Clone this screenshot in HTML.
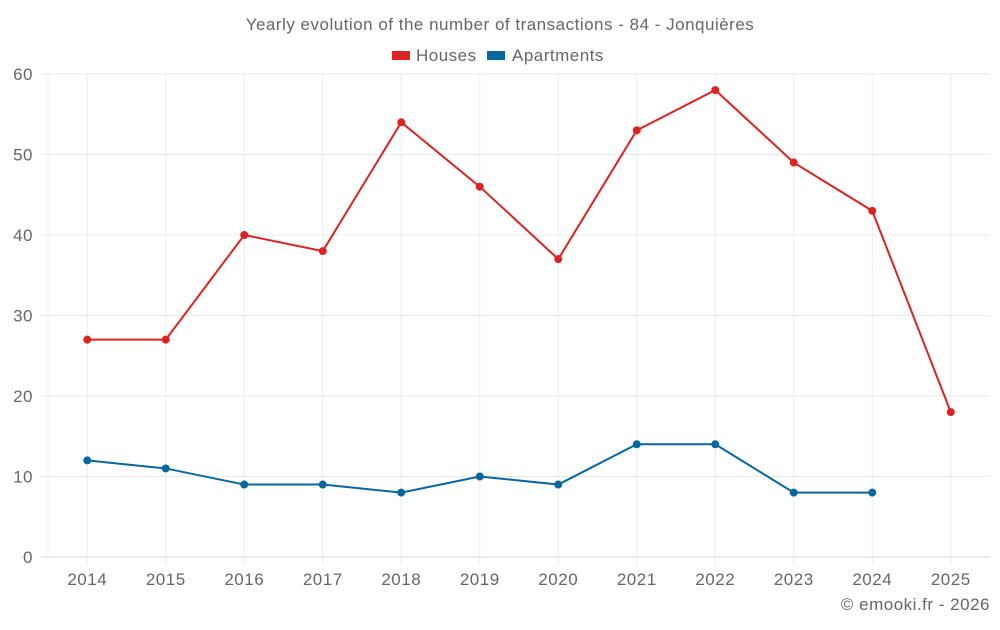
<!DOCTYPE html>
<html><head><meta charset="utf-8"><style>
body{margin:0;background:#fff;font-family:"Liberation Sans",sans-serif}
svg text{font-family:"Liberation Sans",sans-serif;fill:#666;font-size:17px;letter-spacing:0.5px}
</style></head><body>
<svg id="c" width="1000" height="625">
<text x="500" y="30" text-anchor="middle">Yearly evolution of the number of transactions - 84 - Jonquières</text>
<g>
<rect x="392" y="51" width="18" height="9" fill="#dd2222"/>
<text x="416" y="61">Houses</text>
<rect x="487" y="51" width="18" height="9" fill="#0a66a0"/>
<text x="512" y="61">Apartments</text>
</g>
<g id="grid"></g><g id="marks"></g>
<text x="990" y="610" text-anchor="end">© emooki.fr - 2026</text>
</svg>
<script>
const years=[2014,2015,2016,2017,2018,2019,2020,2021,2022,2023,2024,2025];
const houses=[27,27,40,38,54,46,37,53,58,49,43,18];
const apartments=[12,11,9,9,8,10,9,14,14,8,8,null];
const yTicks=[0,10,20,30,40,50,60];
const L=48,R=990,T=74,B=557,NS="http://www.w3.org/2000/svg";
const x=i=>L+(R-L)/years.length*(i+0.5);
const y=v=>B-(B-T)*v/60;
const g=document.getElementById('grid'),m=document.getElementById('marks');
function el(t,a,p){const e=document.createElementNS(NS,t);for(const k in a)e.setAttribute(k,a[k]);p.appendChild(e);return e;}
yTicks.forEach(v=>{
 const l=el('line',{x1:41,x2:R,y1:y(v),y2:y(v),stroke:v?'#ebebeb':'#d8d8d8'},g);
 
 
 const t=el('text',{x:33,y:y(v)+6,'text-anchor':'end'},g);t.textContent=v;
 
 
});
el('line',{x1:L,x2:L,y1:T,y2:B,stroke:'#ebebeb'},g);
years.forEach((yr,i)=>{
 const l=el('line',{x1:x(i),x2:x(i),y1:T,y2:B+8,stroke:'#ebebeb'},g);
 
 
 const t=el('text',{x:x(i),y:585,'text-anchor':'middle'},g);t.textContent=yr;
 
 
});
function series(d,c,n){
 let p='';d.forEach((v,i)=>{if(v==null)return;p+=(p?'L':'M')+x(i)+','+y(v);});
 const pa=el('path',{d:p,fill:'none',stroke:c,'stroke-width':2},m);
 
 
 d.forEach((v,i)=>{if(v==null)return;
  const ci=el('circle',{cx:x(i),cy:y(v),r:4,fill:c},m);
  
  
 });
}
series(houses,'#dd2222','houses');
series(apartments,'#0a66a0','apartments');
</script>
</body></html>
